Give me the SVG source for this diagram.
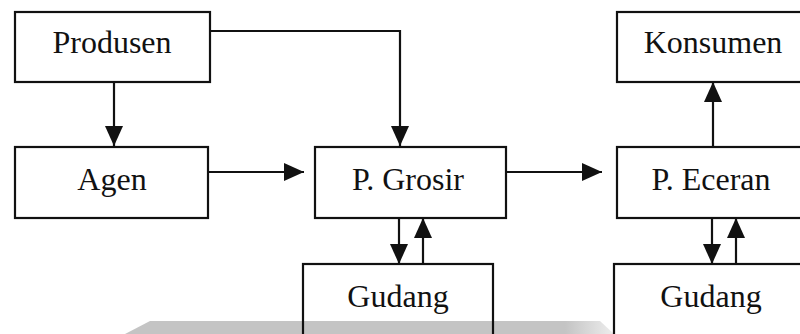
<svg xmlns="http://www.w3.org/2000/svg" width="800" height="334" viewBox="0 0 800 334">
<style>
.box{fill:none;stroke:#111;stroke-width:2.2}
.lbl{font-family:"Liberation Serif","Times New Roman",serif;font-size:32px;fill:#111;text-anchor:middle}
.cn{fill:none;stroke:#111;stroke-width:2.2;marker-end:url(#ah)}
</style>
<defs>
<marker id="ah" markerUnits="userSpaceOnUse" markerWidth="20" markerHeight="18" refX="20" refY="9" orient="auto">
<path d="M0,0 L20,9 L0,18 Z" fill="#111"/>
</marker>
<linearGradient id="fade" x1="0" y1="0" x2="1" y2="0">
<stop offset="0" stop-color="#c4c4c4"/>
<stop offset="0.9" stop-color="#c4c4c4"/>
<stop offset="1" stop-color="#c4c4c4" stop-opacity="0.3"/>
</linearGradient>
</defs>
<rect width="800" height="334" fill="#fff"/>
<polygon points="150,321 600,321 614,334 125,334" fill="url(#fade)"/>
<g id="produsen"><rect class="box" x="15" y="12" width="195" height="70"/><text class="lbl" x="112" y="53">Produsen</text></g>
<g id="agen"><rect class="box" x="15" y="147" width="193" height="71"/><text class="lbl" x="112" y="190">Agen</text></g>
<g id="grosir"><rect class="box" x="315" y="147" width="191" height="71"/><text class="lbl" x="408" y="190">P. Grosir</text></g>
<g id="gudang1"><rect class="box" x="303" y="264" width="190" height="80"/><text class="lbl" x="398" y="307">Gudang</text></g>
<g id="konsumen"><rect class="box" x="617" y="12" width="200" height="70"/><text class="lbl" x="713" y="53">Konsumen</text></g>
<g id="eceran"><rect class="box" x="617" y="147" width="200" height="71"/><text class="lbl" x="711" y="190">P. Eceran</text></g>
<g id="gudang2"><rect class="box" x="614" y="264" width="200" height="80"/><text class="lbl" x="711" y="307">Gudang</text></g>
<g id="connectors">
<path class="cn" d="M114,82 V146"/>
<path class="cn" d="M210,31 H400 V146"/>
<path class="cn" d="M208,172 H304"/>
<path class="cn" d="M506,172 H602"/>
<path class="cn" d="M713,147 V82"/>
<path class="cn" d="M399,218 V264"/>
<path class="cn" d="M423,264 V218"/>
<path class="cn" d="M712,218 V264"/>
<path class="cn" d="M736,264 V218"/>
</g>
</svg>
